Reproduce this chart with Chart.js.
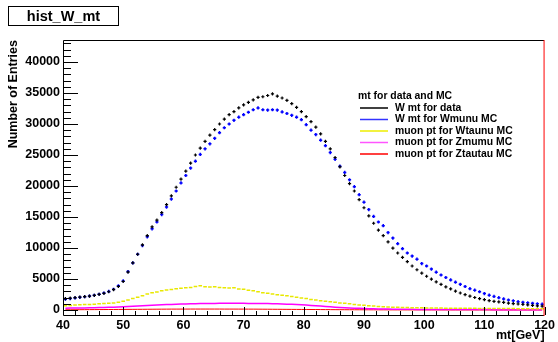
<!DOCTYPE html>
<html>
<head>
<meta charset="utf-8">
<script src="https://cdn.jsdelivr.net/npm/chart.js@4/dist/chart.umd.min.js"></script>
<style>
  html, body { margin: 0; padding: 0; background: #fff; }
  #wrap { width: 558px; height: 342px; position: relative; }
</style>
</head>
<body>
<div id="wrap"><canvas id="c"></canvas></div>
<script>
// binning of the histograms: 100 bins between 40 and 120 GeV
const xMin = 40, xMax = 120, nBins = 100;
const binCenters = Array.from({ length: nBins }, (_, i) => xMin + (i + 0.5) * (xMax - xMin) / nBins);

const xTicks = [40, 50, 60, 70, 80, 90, 100, 110, 120];
const yTicks = [0, 5000, 10000, 15000, 20000, 25000, 30000, 35000, 40000];

const histTitle = 'hist_W_mt';
const legendTitle = 'mt for data and MC';
const seriesNames = ['W mt for data', 'W mt for Wmunu MC', 'muon pt for Wtaunu MC', 'muon pt for Zmumu MC', 'muon pt for Ztautau MC'];

const dataW = [
  1850, 1920, 2000, 2080, 2160, 2250, 2380, 2520, 2700, 2950,
  3300, 3800, 4600, 6100, 7600, 9000, 10500, 12000, 13400, 14500,
  15700, 17000, 18400, 19800, 21100, 22400, 23700, 25000, 26100, 27200,
  28200, 29100, 30000, 30800, 31500, 32000, 32600, 33100, 33500, 33900,
  34300, 34400, 34600, 34850, 34500, 34200, 33800, 33300, 32700, 32000,
  31200, 30400, 29500, 28400, 27200, 26000, 24600, 23100, 21700, 20400,
  19200, 17800, 16500, 15200, 14000, 12900, 12000, 11000, 10000, 9200,
  8500, 7800, 7100, 6500, 5950, 5450, 5000, 4550, 4150, 3750,
  3400, 3050, 2750, 2480, 2230, 2020, 1840, 1680, 1530, 1400,
  1330, 1220, 1120, 1040, 970, 900, 820, 750, 680, 620
];
const wmunuMC = [
  1750, 1850, 1950, 2050, 2150, 2250, 2380, 2550, 2750, 3000,
  3350, 3900, 4700, 6200, 7600, 9000, 10400, 11800, 13100, 14200,
  15400, 16600, 17900, 19200, 20500, 21700, 22900, 24000, 25100, 26000,
  26800, 27700, 28600, 29400, 30000, 30600, 31100, 31500, 31900, 32300,
  32600, 32300, 32250, 32300, 32250, 31950, 31700, 31400, 31100, 30700,
  29900, 29000, 28300, 27400, 26500, 25400, 24300, 23200, 22200, 21000,
  19900, 18600, 17400, 16200, 15100, 14200, 13600, 12500, 11600, 10700,
  9900, 9200, 8700, 8200, 7500, 7100, 6600, 6100, 5650, 5250,
  4850, 4500, 4150, 3800, 3450, 3200, 2950, 2650, 2400, 2200,
  2000, 1800, 1620, 1480, 1350, 1250, 1170, 1080, 1000, 950
];
const wtaunuMC = [
  700, 720, 800, 850, 900, 880, 950, 1000, 1050, 1100,
  1150, 1250, 1400, 1600, 1850, 2050, 2300, 2600, 2800, 2900,
  3100, 3250, 3300, 3450, 3500, 3600, 3650, 3800, 3900, 3750,
  3700, 3750, 3650, 3600, 3550, 3600, 3400, 3350, 3200, 3100,
  2950, 2800, 2700, 2600, 2450, 2400, 2300, 2200, 2050, 1950,
  1850, 1700, 1600, 1500, 1400, 1330, 1250, 1150, 1080, 1000,
  900, 830, 780, 700, 640, 580, 530, 500, 470, 440,
  420, 400, 380, 370, 350, 340, 330, 320, 310, 300,
  295, 290, 285, 280, 275, 270, 265, 260, 255, 250,
  245, 240, 235, 230, 225, 220, 215, 210, 205, 200
];
const zmumuMC = [
  300, 310, 320, 330, 340, 350, 370, 390, 410, 430,
  460, 490, 530, 580, 620, 660, 700, 740, 780, 820,
  850, 880, 910, 940, 960, 980, 1000, 1020, 1040, 1050,
  1060, 1070, 1080, 1080, 1080, 1080, 1080, 1080, 1070, 1070,
  1060, 1050, 1040, 1020, 1000, 980, 950, 920, 890, 850,
  800, 750, 700, 640, 580, 520, 460, 410, 370, 330,
  300, 270, 240, 215, 195, 180, 165, 150, 140, 130,
  120, 115, 110, 105, 100, 95, 92, 90, 88, 86,
  84, 82, 80, 78, 76, 74, 72, 70, 68, 66,
  64, 62, 60, 58, 56, 54, 52, 50, 48, 46
];
const ztautauMC = [
  40, 45, 50, 55, 60, 65, 70, 75, 80, 85,
  90, 95, 100, 105, 110, 115, 120, 125, 130, 135,
  140, 145, 150, 150, 155, 155, 160, 160, 160, 160,
  160, 160, 160, 155, 155, 155, 150, 150, 145, 145,
  140, 135, 130, 125, 120, 115, 110, 105, 100, 95,
  90, 85, 80, 75, 70, 65, 60, 56, 52, 48,
  45, 42, 40, 38, 36, 34, 32, 30, 28, 26,
  25, 24, 23, 22, 21, 20, 19, 18, 17, 16,
  15, 15, 14, 14, 13, 13, 12, 12, 11, 11,
  10, 10, 10, 9, 9, 9, 8, 8, 8, 7
];

const FONT = '"Liberation Sans", Arial, Helvetica, sans-serif';
const pts = arr => binCenters.map((x, i) => ({ x, y: arr[i] }));

// ROOT-like frame, inner ticks, title box and legend
const rootStyle = {
  id: 'rootStyle',
  afterDatasetsDraw(chart) {
    const { ctx, chartArea: a, scales: { x, y } } = chart;
    ctx.save();
    ctx.strokeStyle = '#000';
    ctx.lineWidth = 1;
    ctx.beginPath();
    for (let v = xMin; v <= xMax; v += 2) {
      const px = Math.round(x.getPixelForValue(v)) + 0.5;
      const len = v % 10 === 0 ? 8 : 4;
      ctx.moveTo(px, a.bottom);
      ctx.lineTo(px, a.bottom - len);
    }
    for (let v = 0; v <= y.max; v += 1000) {
      const py = Math.round(y.getPixelForValue(v)) + 0.5;
      const len = v % 5000 === 0 ? 15 : 8;
      ctx.moveTo(a.left, py);
      ctx.lineTo(a.left + len, py);
    }
    ctx.stroke();
    // frame
    ctx.beginPath();
    ctx.moveTo(a.right - 0.5, a.top + 0.5);
    ctx.lineTo(a.left + 0.5, a.top + 0.5);
    ctx.lineTo(a.left + 0.5, a.bottom + 0.5);
    ctx.lineTo(a.right - 0.5, a.bottom + 0.5);
    ctx.stroke();
    ctx.strokeStyle = '#ff0000';
    ctx.beginPath();
    ctx.moveTo(a.right - 0.5, a.top);
    ctx.lineTo(a.right - 0.5, a.bottom + 1);
    ctx.stroke();
    ctx.restore();
  },
  afterDraw(chart) {
    const { ctx } = chart;
    ctx.save();
    // title box
    ctx.fillStyle = '#fff';
    ctx.fillRect(8, 6, 110, 19);
    ctx.strokeStyle = '#000';
    ctx.lineWidth = 1;
    ctx.strokeRect(8.5, 6.5, 110, 19);
    ctx.fillStyle = '#000';
    ctx.font = 'bold 14.5px ' + FONT;
    ctx.textAlign = 'center';
    ctx.textBaseline = 'middle';
    ctx.fillText(histTitle, 63.5, 16.5);

    // legend
    ctx.textAlign = 'left';
    ctx.font = 'bold 10.4px ' + FONT;
    ctx.fillText(legendTitle, 358, 96);
    chart.data.datasets.forEach((ds, i) => {
      const ly = 108 + i * 11.5;
      ctx.strokeStyle = ds.legendColor;
      ctx.lineWidth = 1.5;
      ctx.beginPath();
      ctx.moveTo(360, ly);
      ctx.lineTo(388, ly);
      ctx.stroke();
      ctx.fillStyle = '#000';
      ctx.fillText(ds.label, 395, ly);
    });
    ctx.restore();
  }
};

new Chart(document.getElementById('c'), {
  type: 'line',
  data: {
    datasets: [
      { label: seriesNames[0], data: pts(dataW), showLine: false, pointStyle: 'cross', pointRadius: 1.6, borderWidth: 1.2, borderColor: '#000', backgroundColor: '#000', legendColor: '#000', order: 1 },
      { label: seriesNames[1], data: pts(wmunuMC), showLine: false, pointStyle: 'cross', pointRadius: 1.6, borderWidth: 1.5, borderColor: '#0000ff', backgroundColor: '#0000ff', legendColor: '#3333ff', order: 2 },
      { label: seriesNames[2], data: pts(wtaunuMC), showLine: false, pointStyle: 'line', pointRadius: 1.8, borderWidth: 1.5, borderColor: '#e8e800', backgroundColor: '#e8e800', legendColor: '#eeee00', order: 3 },
      { label: seriesNames[3], data: pts(zmumuMC), pointRadius: 0, borderWidth: 1.5, borderColor: '#ff00ff', legendColor: '#ff55ff', order: 4 },
      { label: seriesNames[4], data: pts(ztautauMC), pointRadius: 0, borderWidth: 1, borderColor: '#ff0000', legendColor: '#ff0000', order: 5 }
    ]
  },
  options: {
    responsive: true,
    maintainAspectRatio: false,
    animation: false,
    devicePixelRatio: 1,
    layout: { padding: { top: 40, right: 11, left: 0, bottom: 0 } },
    plugins: { legend: { display: false }, tooltip: { enabled: false } },
    scales: {
      x: {
        type: 'linear',
        min: xMin,
        max: xMax,
        afterBuildTicks: s => { s.ticks = xTicks.map(v => ({ value: v })); },
        afterFit: s => { s.height = 27; },
        grid: { display: false, drawTicks: false },
        border: { display: false },
        ticks: { color: '#000', font: { family: FONT, size: 12.5, weight: 'bold' }, padding: 3, maxRotation: 0, autoSkip: false },
        title: { display: true, text: 'mt[GeV]', align: 'end', color: '#000', font: { family: FONT, size: 12.5, weight: 'bold' }, padding: { top: 0, bottom: -1 } }
      },
      y: {
        type: 'linear',
        min: -800,
        max: 43550,
        afterBuildTicks: s => { s.ticks = yTicks.map(v => ({ value: v })); },
        afterFit: s => { s.width = 63; },
        grid: { display: false, drawTicks: false },
        border: { display: false },
        ticks: { color: '#000', font: { family: FONT, size: 12.5, weight: 'bold' }, padding: 3, callback: v => String(v) },
        title: { display: true, text: 'Number of Entries', align: 'end', color: '#000', font: { family: FONT, size: 12.5, weight: 'bold' }, padding: { top: 6, bottom: 0 } }
      }
    }
  },
  plugins: [rootStyle]
});
</script>
</body>
</html>
